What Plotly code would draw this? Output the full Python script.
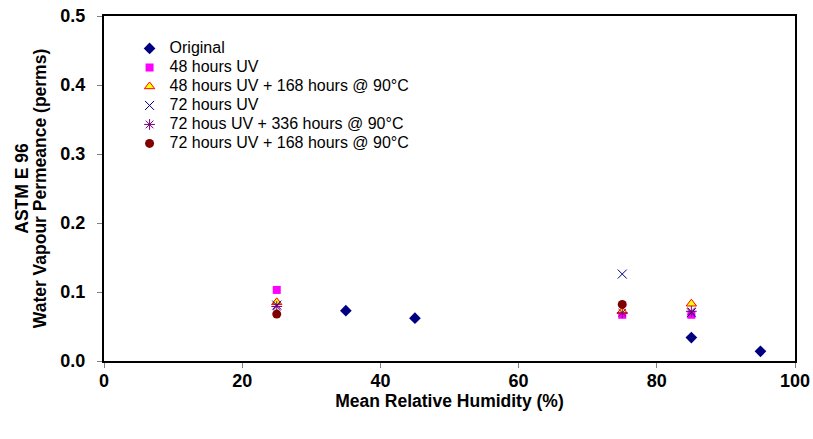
import plotly.graph_objects as go

orig_x = [35, 45, 85, 95]
orig_y = [0.073, 0.062, 0.034, 0.014]

uv48_x = [25, 75, 85]
uv48_y = [0.103, 0.067, 0.067]

uv48h_x = [25, 75, 85]
uv48h_y = [0.085, 0.072, 0.083]

uv72_x = [25, 75, 85]
uv72_y = [0.081, 0.126, 0.070]

uv72h336_x = [25, 75, 85]
uv72h336_y = [0.079, 0.070, 0.072]

uv72h168_x = [25, 75]
uv72h168_y = [0.068, 0.082]

names = ["Original", "48 hours UV", "48 hours UV + 168 hours @ 90°C", "72 hours UV",
         "72 hous UV + 336 hours @ 90°C", "72 hours UV + 168 hours @ 90°C"]


def lg(t):
    return "<span style='font-size:16px'>" + t + "</span>"


fig = go.Figure()
fig.add_trace(go.Scatter(x=orig_x, y=orig_y, mode="markers", name=lg(names[0]),
                         marker=dict(symbol="diamond", size=9, color="#000080")))
fig.add_trace(go.Scatter(x=uv48_x, y=uv48_y, mode="markers", name=lg(names[1]),
                         marker=dict(symbol="square", size=8, color="#FF00FF")))
fig.add_trace(go.Scatter(x=uv48h_x, y=uv48h_y, mode="markers", name=lg(names[2]),
                         marker=dict(symbol="triangle-up", size=9, color="#FFFF00",
                                     line=dict(color="#FF0000", width=1))))
fig.add_trace(go.Scatter(x=uv72_x, y=uv72_y, mode="markers", name=lg(names[3]),
                         marker=dict(symbol="x-thin-open", size=9, color="#000080",
                                     line=dict(color="#000080", width=1))))
fig.add_trace(go.Scatter(x=uv72h336_x, y=uv72h336_y, mode="markers", name=lg(names[4]),
                         marker=dict(symbol="asterisk-open", size=9, color="#800080",
                                     line=dict(color="#800080", width=1))))
fig.add_trace(go.Scatter(x=uv72h168_x, y=uv72h168_y, mode="markers", name=lg(names[5]),
                         marker=dict(symbol="circle", size=9, color="#800000")))

axis_common = dict(showline=True, linecolor="black", linewidth=2, mirror=True,
                   ticks="outside", ticklen=5, tickcolor="#808080", tickwidth=1,
                   showgrid=False, zeroline=False, automargin=False,
                   tickfont=dict(family="Liberation Sans, Arial", size=18, color="black", weight="bold"))

fig.update_layout(
    width=813, height=439,
    margin=dict(l=104, r=18, t=16, b=78),
    paper_bgcolor="white", plot_bgcolor="white",
    font=dict(family="Liberation Sans, Arial", color="black"),
    xaxis=dict(range=[0, 100], tickvals=[0, 20, 40, 60, 80, 100],
               ticklabelstandoff=-3,
               title=dict(text="<span style='font-size:17.5px'>Mean Relative Humidity (%)</span>",
                          standoff=0, font=dict(size=13, weight="bold")),
               **axis_common),
    yaxis=dict(range=[0, 0.5], tickvals=[0, 0.1, 0.2, 0.3, 0.4, 0.5], tickformat=".1f",
               ticklabelstandoff=8,
               title=dict(text="<span style='font-size:17.5px'>ASTM E 96</span><br>"
                               "<span style='font-size:17.5px'>Water Vapour Permeance (perms)</span>",
                          standoff=10, font=dict(size=14, weight="bold")),
               **axis_common),
    legend=dict(x=0.037, y=0.948, xanchor="left", yanchor="top",
                bgcolor="rgba(0,0,0,0)", font=dict(size=12),
                itemwidth=30, tracegroupgap=0),
    showlegend=True,
)

fig.write_html("out.html", config={"displayModeBar": False},
               post_script="document.body.style.margin='0';")
